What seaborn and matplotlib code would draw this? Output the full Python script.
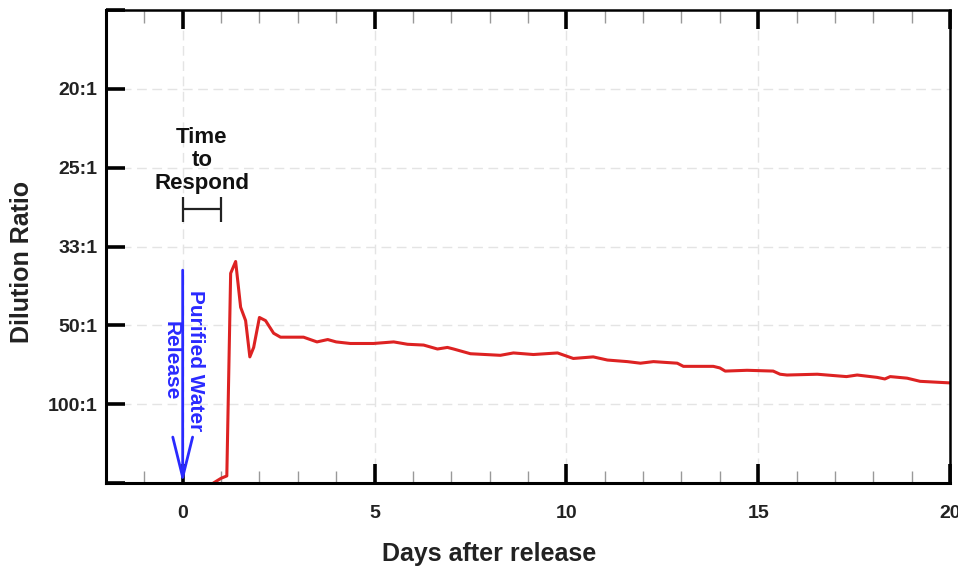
import matplotlib
matplotlib.use('Agg')
import matplotlib.pyplot as plt
from matplotlib.ticker import MultipleLocator
import seaborn as sns
import pandas as pd

# Days after release and measured purified-water fraction (1 / dilution ratio)
days = [0.8, 1.0, 1.15, 1.25, 1.38, 1.51, 1.64, 1.75, 1.85, 2.0, 2.16, 2.37, 2.55,
        2.8, 3.15, 3.5, 3.78, 4.0, 4.37, 4.97, 5.5, 5.86, 6.28, 6.64, 6.9, 7.06,
        7.5, 8.28, 8.62, 9.14, 9.77, 10.18, 10.7, 11.07, 11.59, 11.93, 12.27,
        12.89, 13.05, 13.83, 14.0, 14.14, 14.71, 15.39, 15.57, 15.75, 16.54,
        17.3, 17.58, 18.1, 18.3, 18.44, 18.88, 19.22, 20.0]
conc = [0.0, 0.0006, 0.0009, 0.0266, 0.0281, 0.0223, 0.0206, 0.0160, 0.0172,
        0.0210, 0.0206, 0.0190, 0.0185, 0.0185, 0.0185, 0.0179, 0.0182, 0.0179,
        0.0177, 0.0177, 0.0179, 0.0176, 0.0175, 0.0170, 0.0172, 0.0170, 0.0164,
        0.0162, 0.0165, 0.0163, 0.0165, 0.0158, 0.0160, 0.0156, 0.0154, 0.0152,
        0.0154, 0.0152, 0.0148, 0.0148, 0.0146, 0.0142, 0.0143, 0.0142, 0.0138,
        0.0137, 0.0138, 0.0135, 0.0137, 0.0134, 0.0132, 0.0135, 0.0133, 0.0129,
        0.0127]

# y ticks (fraction) and their dilution labels
y_ticks = [0.0, 0.01, 0.02, 0.03, 0.04, 0.05, 0.06]
y_labels = ['', '100:1', '50:1', '33:1', '25:1', '20:1', '']
x_ticks = [0, 5, 10, 15, 20]

df = pd.DataFrame({'days': days, 'conc': conc})

sns.set_style('white')
plt.rcParams['font.family'] = ['Liberation Sans', 'DejaVu Sans']
plt.rcParams['font.weight'] = 'bold'

fig = plt.figure(figsize=(9.58, 5.69), dpi=100)
ax = fig.add_axes([0.1106, 0.1511, 0.8811, 0.8313])

sns.lineplot(data=df, x='days', y='conc', color='#dd2222', linewidth=2.2, ax=ax)

ax.set_xlim(-2, 20)
ax.set_ylim(0, 0.06)

ax.set_xticks(x_ticks)
ax.xaxis.set_minor_locator(MultipleLocator(1))
ax.set_yticks(y_ticks)
ax.set_yticklabels(y_labels)

ax.grid(True, which='major', linestyle=(0, (7, 4)), color='#e4e4e4', linewidth=1)

ax.tick_params(axis='x', which='major', direction='in', length=14, width=2.6,
               color='black', top=True, bottom=True, labelsize=14, pad=16,
               labelcolor='#222222')
ax.tick_params(axis='x', which='minor', direction='in', length=9, width=1,
               color='#999999', top=True, bottom=True)
ax.tick_params(axis='y', which='major', direction='in', length=14, width=2.6,
               color='black', left=True, right=False, labelsize=14, pad=6,
               labelcolor='#222222')
for lbl in ax.get_xticklabels() + ax.get_yticklabels():
    lbl.set_fontweight('bold')

for side in ['left', 'bottom']:
    ax.spines[side].set_linewidth(2.2)
    ax.spines[side].set_color('black')
for side in ['top', 'right']:
    ax.spines[side].set_linewidth(1.8)
    ax.spines[side].set_color('black')

ax.set_xlabel('Days after release', fontsize=18, fontweight='bold', color='#222222')
ax.set_ylabel('Dilution Ratio', fontsize=18, fontweight='bold', color='#222222')
ax.xaxis.set_label_coords(0.454, -0.125)
ax.yaxis.set_label_coords(-0.085, 0.467)

# release arrow
ax.annotate('', xy=(0, 0.0), xytext=(0, 0.027),
            arrowprops=dict(arrowstyle='->, head_length=0.85, head_width=0.21',
                            color='#2a2aff', lw=2, mutation_scale=34,
                            shrinkA=0, shrinkB=0))
ax.text(0.02, 0.0155, 'Purified Water\nRelease', rotation=270, color='#2a2aff',
        fontsize=15, fontweight='bold', ha='center', va='center',
        multialignment='center', linespacing=1.4)

# time to respond bracket
ax.errorbar(0.5, 0.0348, xerr=0.5, color='#222222', capsize=9, capthick=1.6,
            elinewidth=1.6, fmt='none')
ax.text(0.5, 0.0409, 'Time\nto\nRespond', color='#111111', fontsize=16,
        fontweight='bold', ha='center', va='center', linespacing=1.1)

plt.savefig('out.png', dpi=100)
